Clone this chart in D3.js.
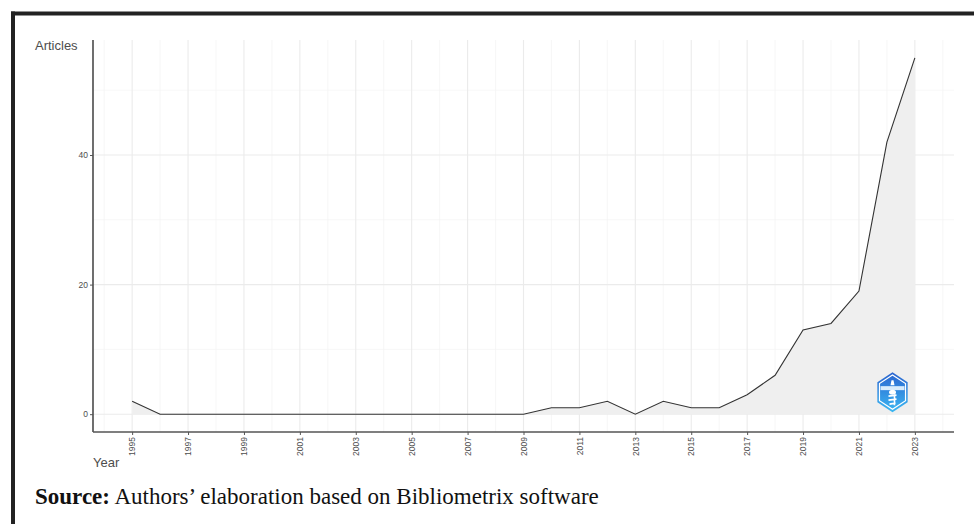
<!DOCTYPE html>
<html>
<head>
<meta charset="utf-8">
<script src="https://cdn.jsdelivr.net/npm/d3@7"></script>
<style>
  html, body { margin: 0; padding: 0; background: #fff; }
  svg { display: block; }
</style>
</head>
<body>
<svg id="chart" width="974" height="524"></svg>
<script>
// Annual scientific production
const years = [1995, 1996, 1997, 1998, 1999, 2000, 2001, 2002, 2003, 2004,
               2005, 2006, 2007, 2008, 2009, 2010, 2011, 2012, 2013, 2014,
               2015, 2016, 2017, 2018, 2019, 2020, 2021, 2022, 2023];
const articles = [2, 0, 0, 0, 0, 0, 0, 0, 0, 0,
                  0, 0, 0, 0, 0, 1, 1, 2, 0, 2,
                  1, 1, 3, 6, 13, 14, 19, 42, 55];
const xTicks = [1995, 1997, 1999, 2001, 2003, 2005, 2007, 2009, 2011, 2013,
                2015, 2017, 2019, 2021, 2023];
const yTicks = [0, 20, 40];
const yMinor = [10, 30, 50];
const xMinor = [1994, 1996, 1998, 2000, 2002, 2004, 2006, 2008, 2010, 2012,
                2014, 2016, 2018, 2020, 2022, 2024];

const data = years.map((y, i) => ({ year: y, n: articles[i] }));

const svg = d3.select("#chart");

// outer frame (top and left edges)
svg.append("line").attr("x1", 11).attr("x2", 974).attr("y1", 13.5).attr("y2", 13.5)
  .attr("stroke", "#222").attr("stroke-width", 4);
svg.append("line").attr("x1", 13).attr("x2", 13).attr("y1", 11.5).attr("y2", 524)
  .attr("stroke", "#222").attr("stroke-width", 4);

const panel = { left: 93, right: 954, top: 40, bottom: 432 };

// ggplot-style 5% expansion on both axes
const xExt = d3.extent(years), xPad = (xExt[1] - xExt[0]) * 0.05;
const yMax = d3.max(articles), yPad = yMax * 0.05;
const x = d3.scaleLinear().domain([xExt[0] - xPad, xExt[1] + xPad]).range([panel.left, panel.right]);
const y = d3.scaleLinear().domain([-yPad, yMax + yPad]).range([panel.bottom, panel.top]);

const g = svg.append("g");

// grid: minor then major
g.selectAll(".xminor").data(xMinor).join("line")
  .attr("x1", d => x(d)).attr("x2", d => x(d))
  .attr("y1", panel.top).attr("y2", panel.bottom)
  .attr("stroke", "#f3f3f3").attr("stroke-width", 0.7);
g.selectAll(".yminor").data(yMinor).join("line")
  .attr("x1", panel.left).attr("x2", panel.right)
  .attr("y1", d => y(d)).attr("y2", d => y(d))
  .attr("stroke", "#f3f3f3").attr("stroke-width", 0.7);
g.selectAll(".xmajor").data(xTicks).join("line")
  .attr("x1", d => x(d)).attr("x2", d => x(d))
  .attr("y1", panel.top).attr("y2", panel.bottom)
  .attr("stroke", "#ebebeb").attr("stroke-width", 1.1);
g.selectAll(".ymajor").data(yTicks).join("line")
  .attr("x1", panel.left).attr("x2", panel.right)
  .attr("y1", d => y(d)).attr("y2", d => y(d))
  .attr("stroke", "#ebebeb").attr("stroke-width", 1.1);

// area under the curve
const area = d3.area().x(d => x(d.year)).y0(y(0)).y1(d => y(d.n));
g.append("path").datum(data).attr("d", area).attr("fill", "#efefef");

// line
const line = d3.line().x(d => x(d.year)).y(d => y(d.n));
g.append("path").datum(data).attr("d", line)
  .attr("fill", "none").attr("stroke", "#333").attr("stroke-width", 1.1);

// Bibliometrix logo badge
const logo = svg.append("g").attr("transform", `translate(${x(2022.2)},${y(3.4)})`);
const defs = svg.append("defs");
const grad = defs.append("linearGradient").attr("id", "lg").attr("x1", 0).attr("y1", 0).attr("x2", 0).attr("y2", 1);
grad.append("stop").attr("offset", "0%").attr("stop-color", "#2a63cf");
grad.append("stop").attr("offset", "100%").attr("stop-color", "#3cb8f2");
const hex = d3.range(6).map(i => {
  const a = Math.PI / 3 * i - Math.PI / 2;
  return [17.5 * Math.cos(a), 20 * Math.sin(a)];
});
logo.append("polygon").attr("points", hex.map(p => p.join(",")).join(" "))
  .attr("fill", "url(#lg)");
const hexIn = hex.map(p => [p[0] * 0.86, p[1] * 0.86]);
logo.append("polygon").attr("points", hexIn.map(p => p.join(",")).join(" "))
  .attr("fill", "none").attr("stroke", "#fff").attr("stroke-width", 1.2);
logo.append("rect").attr("x", -12).attr("y", -6).attr("width", 24).attr("height", 4)
  .attr("fill", "#d7ebfc");
logo.append("path").attr("d", "M-1,-12 L1,-12 L2,-7 L-2,-7 Z").attr("fill", "#fff");
logo.append("ellipse").attr("cx", 0).attr("cy", 0).attr("rx", 3.5).attr("ry", 2.5).attr("fill", "#fff");
logo.append("path").attr("d", "M-4,4 L4,3 M-4,8 L4,7 M-3,12 L3,11 M2,2 L2,13")
  .attr("stroke", "#fff").attr("stroke-width", 1.6).attr("fill", "none");

// axes
const axisColor = "#555";
const sans = "Liberation Sans, Arial, sans-serif";
const xAxis = svg.append("g").attr("transform", `translate(0,${panel.bottom})`)
  .call(d3.axisBottom(x).tickValues(xTicks).tickFormat(d3.format("d")).tickSize(3).tickPadding(2));
xAxis.select(".domain").attr("stroke", axisColor).attr("stroke-width", 1.7)
  .attr("d", `M${panel.left},0H${panel.right}`);
xAxis.selectAll(".tick line").attr("stroke", axisColor);
xAxis.selectAll(".tick text")
  .attr("fill", "#4d4d4d").style("font-family", sans)
  .style("font-size", "8.5px")
  .attr("transform", "rotate(-90)")
  .attr("text-anchor", "end").attr("x", -5).attr("y", 0).attr("dy", "0.32em");

const yAxis = svg.append("g").attr("transform", `translate(${panel.left},0)`)
  .call(d3.axisLeft(y).tickValues(yTicks).tickSize(3).tickPadding(2));
yAxis.select(".domain").attr("stroke", axisColor).attr("stroke-width", 1.7)
  .attr("d", `M0,${panel.top}V${panel.bottom}`);
yAxis.selectAll(".tick line").attr("stroke", axisColor);
yAxis.selectAll(".tick text")
  .attr("fill", "#4d4d4d").style("font-family", sans)
  .style("font-size", "8.5px");

// axis titles
svg.append("text").attr("x", 35).attr("y", 50).text("Articles")
  .attr("fill", "#4d4d4d").style("font-family", sans)
  .style("font-size", "13px");
svg.append("text").attr("x", 93).attr("y", 467).text("Year")
  .attr("fill", "#4d4d4d").style("font-family", sans)
  .style("font-size", "13px");

// source note
const src = svg.append("text").attr("x", 35).attr("y", 504)
  .style("font-family", "Liberation Serif, Times New Roman, serif").style("font-size", "23px")
  .attr("fill", "#111");
src.append("tspan").attr("font-weight", "bold").text("Source:");
src.append("tspan").text(" Authors\u2019 elaboration based on Bibliometrix software");
</script>
</body>
</html>
